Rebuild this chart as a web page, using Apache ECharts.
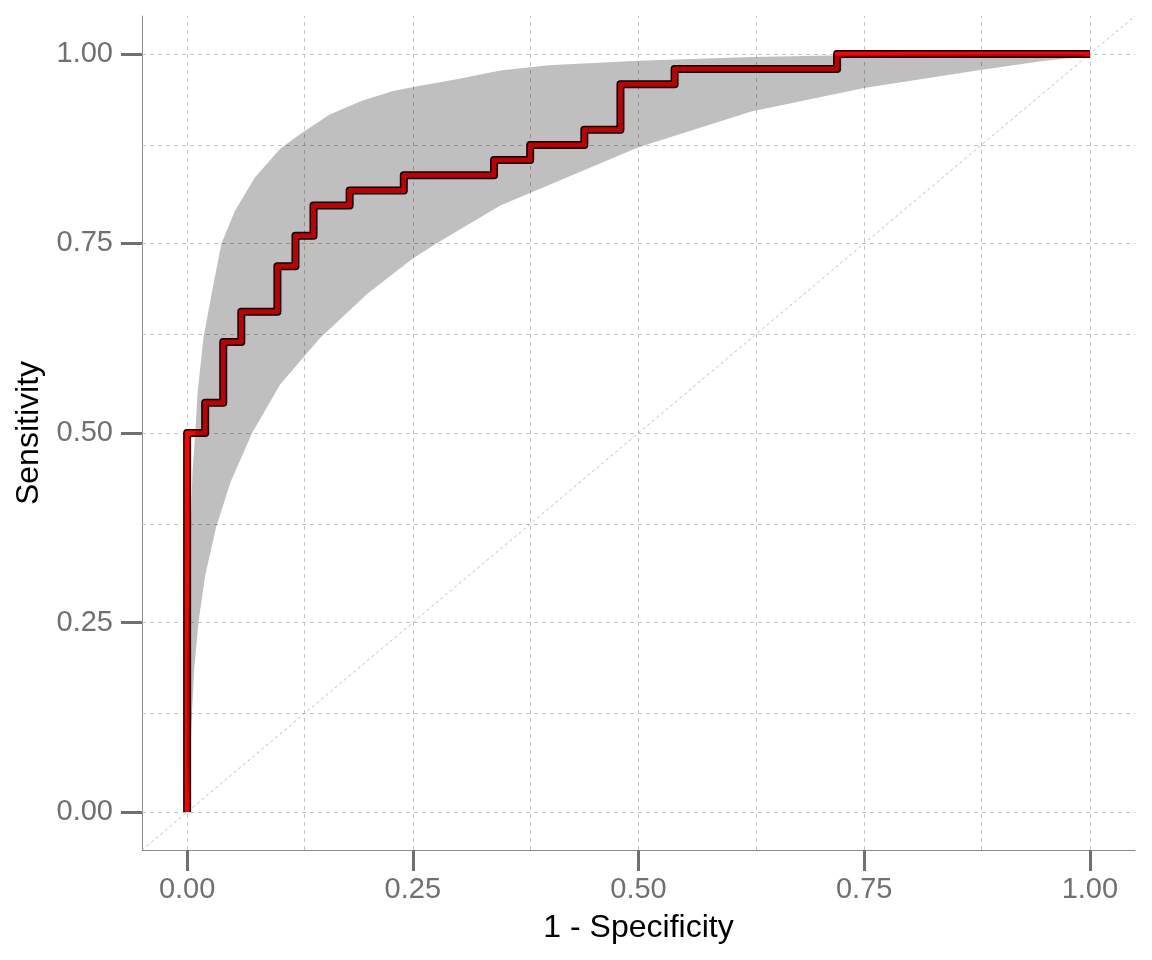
<!DOCTYPE html>
<html>
<head>
<meta charset="utf-8">
<script src="https://cdn.jsdelivr.net/npm/echarts@6/dist/echarts.min.js"></script>
<style>
html,body{margin:0;padding:0;background:#fff;}
#chart{width:1152px;height:960px;}
</style>
</head>
<body>
<div id="chart"></div>
<script>
// ROC curve corner points (1 - specificity, sensitivity)
const fpr = [0, 0, 0.02, 0.04, 0.06, 0.10, 0.12, 0.14, 0.18, 0.24, 0.34, 0.38, 0.44, 0.48, 0.54, 0.72, 1.00];
const tpr = [0, 0.50, 0.54, 0.62, 0.66, 0.72, 0.76, 0.80, 0.82, 0.84, 0.86, 0.88, 0.90, 0.96, 0.98, 1.00, 1.00];

// Confidence band of sensitivity: upper boundary
const upperX = [0, 0.003, 0.006, 0.009, 0.0115, 0.018, 0.027, 0.038, 0.053, 0.075, 0.103, 0.125, 0.158, 0.193, 0.228, 0.258, 0.3, 0.347, 0.4, 0.5, 0.625, 0.715, 0.8, 0.9, 1];
const upperY = [0.2, 0.35, 0.45, 0.5, 0.552, 0.625, 0.683, 0.75, 0.793, 0.837, 0.875, 0.894, 0.92, 0.938, 0.951, 0.958, 0.967, 0.978, 0.985, 0.991, 0.996, 0.998, 0.999, 1.0, 1];
// Confidence band of sensitivity: lower boundary
const lowerX = [0, 0.0026, 0.0052, 0.0078, 0.0125, 0.020, 0.032, 0.048, 0.072, 0.103, 0.147, 0.2, 0.25, 0.276, 0.347, 0.391, 0.5, 0.625, 0.75, 0.875, 0.944, 0.99, 1];
const lowerY = [0, 0.054, 0.125, 0.188, 0.25, 0.312, 0.375, 0.435, 0.5, 0.564, 0.625, 0.684, 0.73, 0.75, 0.80, 0.822, 0.877, 0.924, 0.955, 0.978, 0.99, 0.996, 1];

// Axis ticks and grid positions
const majorTicks = [0, 0.25, 0.5, 0.75, 1];
const gridValues = [0, 0.125, 0.25, 0.375, 0.5, 0.625, 0.75, 0.875, 1];
const axisMin = -0.05, axisMax = 1.05;

const FONT = 'Liberation Sans';
const chart = echarts.init(document.getElementById('chart'), null, {renderer: 'canvas'});

const rocData = fpr.map((x, i) => [x, tpr[i]]);
const bandPoly = upperX.map((x, i) => [x, upperY[i]])
  .concat(lowerX.map((x, i) => [x, lowerY[i]]).reverse());

const gridLineStyle = {color: '#c2c2c2', width: 1, type: [4, 4]};
const markLines = gridValues.map(v => ({xAxis: v})).concat(gridValues.map(v => ({yAxis: v})));

function axisCommon(isX) {
  return {
    type: 'value',
    min: axisMin,
    max: axisMax,
    axisLine: {show: true, onZero: false, lineStyle: {color: '#8a8a8a', width: 1}},
    axisTick: {show: true, customValues: majorTicks, length: 21, lineStyle: {color: '#707070', width: 3}},
    axisLabel: {
      customValues: majorTicks,
      formatter: v => v.toFixed(2),
      color: '#707070', fontSize: 29, fontFamily: FONT,
      margin: isX ? 25 : 29
    },
    splitLine: {show: false}
  };
}

const option = {
  animation: false,
  grid: {left: 142, top: 16, right: 17, bottom: 110, containLabel: false},
  xAxis: Object.assign(axisCommon(true), {
    name: '1 - Specificity', nameLocation: 'middle', nameGap: 62,
    nameTextStyle: {color: '#000', fontSize: 32, fontFamily: FONT}
  }),
  yAxis: Object.assign(axisCommon(false), {
    name: 'Sensitivity', nameLocation: 'middle', nameGap: 96,
    nameTextStyle: {color: '#000', fontSize: 32, fontFamily: FONT}
  }),
  series: [
    {
      type: 'line', name: 'grid', data: [], silent: true, z: 1,
      markLine: {z: 1, silent: true, symbol: ['none', 'none'], label: {show: false},
        lineStyle: gridLineStyle, animation: false, data: markLines}
    },
    {
      type: 'line', name: 'diagonal', z: 2, silent: true, symbol: 'none',
      data: [[axisMin, axisMin], [axisMax, axisMax]],
      lineStyle: {color: '#bdbdbd', width: 1, type: [3, 3]}
    },
    {
      type: 'line', name: 'outline', z: 3, silent: true, symbol: 'none', step: 'end',
      data: rocData,
      lineStyle: {color: '#000', width: 8, join: 'round', cap: 'butt'}
    },
    {
      type: 'line', name: 'roc', z: 4, silent: true, symbol: 'none', step: 'end',
      data: rocData,
      lineStyle: {color: '#ff0000', width: 5, join: 'round', cap: 'butt'}
    },
    {
      type: 'custom', name: 'band', z: 5, silent: true,
      data: [0],
      renderItem: function (params, api) {
        const pts = bandPoly.map(p => api.coord(p));
        return {
          type: 'polygon',
          shape: {points: pts},
          style: {fill: 'rgba(0,0,0,0.25)'}
        };
      }
    }
  ]
};
chart.setOption(option);
</script>
</body>
</html>
